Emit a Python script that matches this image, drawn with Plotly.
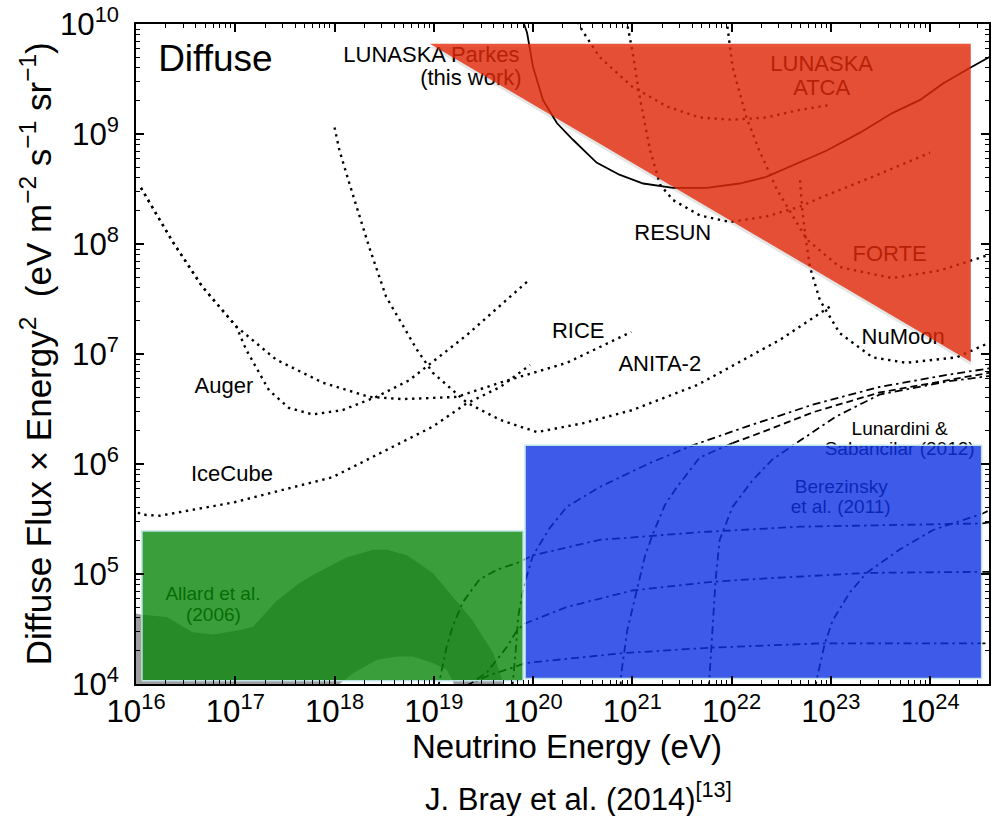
import plotly.graph_objects as go

FONT = "Liberation Sans, Arial, Helvetica, sans-serif"

# ---------------------------------------------------------------------------
# Data: log10(E / eV) and log10(E^2 * flux / eV m^-2 s^-1 sr^-1)
# ---------------------------------------------------------------------------

# Experimental limits (dotted)
auger_logE = [16.05, 16.37, 16.67, 17.01, 17.11, 17.34, 17.54, 17.78, 18.08, 18.42, 18.75, 18.99, 19.33, 19.97]
auger_logF = [8.51, 8.02, 7.61, 7.25, 7.04, 6.67, 6.51, 6.45, 6.49, 6.61, 6.76, 6.93, 7.17, 7.68]

rice_logE = [16.05, 16.37, 16.67, 17.01, 17.41, 17.88, 18.35, 18.69, 18.97, 19.23, 19.67, 20.34, 20.99]
rice_logF = [8.51, 8.02, 7.61, 7.25, 6.95, 6.74, 6.61, 6.59, 6.60, 6.61, 6.74, 6.92, 7.20]

anita_logE = [18.00, 18.05, 18.15, 18.35, 18.52, 18.69, 18.83, 18.99, 19.33, 19.67, 20.04, 20.50, 21.00, 21.66, 22.49, 22.99]
anita_logF = [9.06, 8.85, 8.55, 7.97, 7.52, 7.25, 7.04, 6.83, 6.56, 6.40, 6.29, 6.37, 6.49, 6.72, 7.13, 7.43]

icecube_logE = [16.02, 16.05, 16.24, 16.98, 17.98, 18.66, 18.99, 19.33, 19.67, 19.97]
icecube_logF = [5.56, 5.54, 5.53, 5.65, 5.88, 6.19, 6.34, 6.55, 6.70, 6.90]

resun_logE = [20.94, 21.00, 21.08, 21.18, 21.28, 21.41, 21.68, 21.98, 22.35, 22.69, 22.92, 23.42, 24.00]
resun_logF = [10.04, 9.76, 9.31, 8.85, 8.54, 8.40, 8.26, 8.20, 8.25, 8.34, 8.43, 8.61, 8.83]

atca_logE = [20.45, 20.49, 20.67, 21.00, 21.35, 21.68, 22.01, 22.35, 22.69, 22.97]
atca_logF = [10.02, 9.95, 9.70, 9.43, 9.25, 9.15, 9.13, 9.15, 9.22, 9.26]

forte_logE = [21.95, 22.01, 22.15, 22.28, 22.46, 22.62, 22.76, 23.09, 23.62, 24.10, 24.59]
forte_logF = [10.04, 9.61, 9.15, 8.85, 8.49, 8.25, 8.04, 7.79, 7.69, 7.76, 7.90]

numoon_logE = [22.69, 22.71, 22.74, 22.79, 22.89, 23.09, 23.42, 23.76, 24.27, 24.59]
numoon_logF = [8.58, 8.34, 8.10, 7.79, 7.49, 7.19, 6.97, 6.92, 6.97, 7.10]

# LUNASKA Parkes limit (solid)
parkes_logE = [19.89, 19.94, 20.00, 20.10, 20.24, 20.40, 20.64, 20.87, 21.11, 21.41, 21.75, 22.08,
               22.35, 22.69, 22.96, 23.29, 23.62, 23.90, 24.13, 24.40, 24.60]
parkes_logF = [10.05, 9.92, 9.61, 9.31, 9.10, 8.95, 8.74, 8.63, 8.55, 8.51, 8.51, 8.55,
               8.61, 8.74, 8.85, 9.01, 9.19, 9.31, 9.46, 9.60, 9.70]

# Cosmic-string model curves (dash-dot / dashed)
model1_logE = [19.04, 19.13, 19.19, 19.29, 19.46, 19.64, 19.84, 20.00, 20.67, 21.68, 22.69, 23.69, 24.53, 24.60]
model1_logF = [3.95, 4.34, 4.52, 4.74, 4.95, 5.04, 5.10, 5.17, 5.31, 5.38, 5.43, 5.45, 5.46, 5.47]

model2_logE = [19.79, 19.81, 19.83, 19.85, 19.89, 19.93, 20.00, 20.17, 20.34, 20.67, 21.18, 21.61, 22.15, 22.82, 23.49, 24.17, 24.60]
model2_logF = [3.95, 4.13, 4.35, 4.61, 4.81, 4.96, 5.17, 5.42, 5.61, 5.79, 6.01, 6.17, 6.34, 6.54, 6.70, 6.81, 6.87]

model3_logE = [19.28, 19.53, 19.74, 19.84, 19.92, 20.34, 21.00, 21.81, 22.35, 23.36, 24.53, 24.60]
model3_logF = [3.95, 4.10, 4.34, 4.49, 4.55, 4.70, 4.85, 4.93, 4.96, 5.01, 5.02, 5.02]

model4_logE = [19.31, 19.56, 19.80, 19.92, 20.90, 21.78, 22.92, 24.53, 24.60]
model4_logF = [3.98, 4.08, 4.15, 4.19, 4.28, 4.33, 4.37, 4.37, 4.37]

model5_logE = [20.88, 20.89, 20.95, 21.05, 21.13, 21.21, 21.33, 21.45, 21.68, 22.01]
model5_logF = [3.95, 4.10, 4.49, 4.88, 5.17, 5.37, 5.63, 5.79, 6.06, 6.19]

lunardini_logE = [22.01, 22.28, 22.82, 23.49, 24.17, 24.60]
lunardini_logF = [6.19, 6.28, 6.47, 6.65, 6.76, 6.83]

model6_logE = [21.77, 21.78, 21.81, 21.84, 21.88, 22.01, 22.21, 22.41, 22.62, 23.05, 23.49, 24.17, 24.60]
model6_logF = [3.95, 4.10, 4.58, 4.95, 5.31, 5.61, 5.85, 6.04, 6.17, 6.43, 6.63, 6.75, 6.80]

model7_logE = [22.84, 22.86, 22.94, 23.02, 23.19, 23.36, 23.69, 24.03, 24.53, 24.60]
model7_logF = [3.95, 4.05, 4.37, 4.58, 4.83, 5.01, 5.22, 5.40, 5.55, 5.58]

# Allard et al. (2006) band
allard_hi_logE = [16.00, 16.06, 16.31, 16.57, 16.78, 17.05, 17.18, 17.42, 17.65, 17.82, 18.12,
                  18.39, 18.53, 18.73, 18.99, 19.19, 19.39, 19.60, 19.72]
allard_hi_logF = [4.64, 4.63, 4.61, 4.47, 4.45, 4.49, 4.52, 4.76, 4.92, 5.01, 5.15,
                  5.22, 5.22, 5.17, 5.01, 4.79, 4.58, 4.28, 3.95]
allard_lo_logE = [19.26, 19.19, 19.13, 18.99, 18.79, 18.63, 18.43, 18.19, 18.05, 17.95, 16.00]
allard_lo_logF = [3.85, 4.03, 4.13, 4.19, 4.25, 4.25, 4.22, 4.10, 4.00, 3.85, 3.85]

# Highlighted regions
parkes_region_logE = [18.96, 24.41, 24.41]
parkes_region_logF = [9.82, 9.82, 6.93]
allard_box_logE = [16.06, 19.90]
allard_box_logF = [4.03, 5.39]
berezinsky_box_logE = [19.92, 24.52]
berezinsky_box_logF = [4.05, 6.17]

# Labels
label_text = ["Diffuse", "LUNASKA Parkes", "(this work)", "LUNASKA", "ATCA", "RESUN", "FORTE",
              "NuMoon", "RICE", "ANITA-2", "Auger", "IceCube", "Allard et al.", "(2006)",
              "Berezinsky", "et al. (2011)", "Lunardini &", "Sabancilar (2012)"]
label_logE = [16.80, 18.976, 19.374, 22.908, 22.908, 21.408, 23.593, 23.729, 20.456, 21.277,
              16.886, 16.967, 16.775, 16.78, 23.105, 23.10, 23.694, 23.694]
label_logF = [9.66, 9.709, 9.491, 9.627, 9.409, 8.082, 7.891, 7.145, 7.20, 6.90,
              6.70, 5.891, 4.809, 4.618, 5.782, 5.60, 6.309, 6.127]
label_size = [37, 22, 22, 22, 22, 22, 22, 22, 22, 22, 22, 22, 19, 19, 19, 19, 19, 19]


def pw(seq):
    return [10 ** v for v in seq]


fig = go.Figure()

# grey model band (tinted by the green box above it)
fig.add_trace(go.Scatter(
    x=pw(allard_hi_logE + allard_lo_logE), y=pw(allard_hi_logF + allard_lo_logF),
    mode="lines", fill="toself", fillcolor="rgb(158,158,158)", line=dict(width=0),
    hoverinfo="skip", showlegend=False))

DOT = "2.4px,4.6px"
DASHDOT = "8px,4px,2.5px,4px"


def add_line(logE, logF, dash, width=2.0):
    fig.add_trace(go.Scatter(
        x=pw(logE), y=pw(logF), mode="lines",
        line=dict(color="black", width=width, dash=dash),
        hoverinfo="skip", showlegend=False))


for lx, ly in [(auger_logE, auger_logF), (rice_logE, rice_logF), (anita_logE, anita_logF),
               (icecube_logE, icecube_logF), (resun_logE, resun_logF), (atca_logE, atca_logF),
               (forte_logE, forte_logF), (numoon_logE, numoon_logF)]:
    add_line(lx, ly, DOT, 2.4)

add_line(parkes_logE, parkes_logF, "solid", 1.8)

for lx, ly in [(model1_logE, model1_logF), (model2_logE, model2_logF), (model3_logE, model3_logF),
               (model4_logE, model4_logF), (model5_logE, model5_logF), (model6_logE, model6_logF),
               (model7_logE, model7_logF)]:
    add_line(lx, ly, DASHDOT, 1.8)
add_line(lunardini_logE, lunardini_logF, "7px,4px", 1.8)

# text labels (drawn beneath the translucent regions so they pick up the tint)
fig.add_trace(go.Scatter(
    x=pw(label_logE), y=pw(label_logF), mode="text", text=label_text,
    textposition="middle center",
    textfont=dict(family=FONT, size=label_size, color="black"),
    hoverinfo="skip", showlegend=False, cliponaxis=False))

# translucent highlighted regions
shadow_logF = [v - 0.03 for v in parkes_region_logF]
fig.add_trace(go.Scatter(
    x=pw(parkes_region_logE), y=pw(shadow_logF), mode="lines", fill="toself",
    fillcolor="rgba(0,0,0,0.10)", line=dict(width=0), hoverinfo="skip", showlegend=False))
fig.add_trace(go.Scatter(
    x=pw(parkes_region_logE), y=pw(parkes_region_logF), mode="lines", fill="toself",
    fillcolor="rgba(228,41,9,0.8)", line=dict(width=0), hoverinfo="skip", showlegend=False))


def add_box(logE, logF, rgba):
    xs = pw([logE[0], logE[1], logE[1], logE[0], logE[0]])
    ys = pw([logF[0], logF[0], logF[1], logF[1], logF[0]])
    fig.add_trace(go.Scatter(
        x=xs, y=ys, mode="lines", fill="toself", fillcolor=rgba,
        line=dict(color="rgb(190,228,232)", width=1.5), hoverinfo="skip", showlegend=False))


add_box(allard_box_logE, allard_box_logF, "rgba(9,134,9,0.8)")
add_box(berezinsky_box_logE, berezinsky_box_logF, "rgba(14,49,227,0.8)")

axis_common = dict(
    type="log", dtick=1, exponentformat="power", showgrid=False, zeroline=False,
    showline=True, linewidth=2, linecolor="black", mirror="ticks", automargin=False,
    ticks="inside", ticklen=8, tickwidth=1.5, tickcolor="black",
    minor=dict(ticks="inside", ticklen=4, tickwidth=1, tickcolor="black", dtick="D1", showgrid=False),
    tickfont=dict(family=FONT, size=25, color="black"),
)
fig.update_xaxes(range=[16, 24.594], ticklabelstandoff=0, **axis_common)
fig.update_yaxes(range=[4, 10], ticklabelstandoff=10, **axis_common)

fig.add_annotation(
    text="Diffuse Flux \u00d7 Energy<sup>2</sup>  (eV m<sup>\u22122</sup> s<sup>\u22121</sup> sr<sup>\u22121</sup>)",
    xref="paper", yref="paper", x=-0.117, y=0.5, xanchor="center", yanchor="middle",
    textangle=-90, showarrow=False, font=dict(family=FONT, size=35, color="black"))
fig.add_annotation(
    text="Neutrino Energy (eV)", xref="paper", yref="paper", x=0.505, y=-0.0945,
    xanchor="center", yanchor="middle", showarrow=False,
    font=dict(family=FONT, size=33, color="black"))
fig.add_annotation(
    text="J. Bray et al. (2014)<sup>[13]</sup>", xref="paper", yref="paper", x=0.519, y=-0.171,
    xanchor="center", yanchor="middle", showarrow=False,
    font=dict(family=FONT, size=31, color="black"))

fig.update_layout(
    width=998, height=816,
    margin=dict(l=136, r=9, t=24, b=132, autoexpand=False),
    paper_bgcolor="white", plot_bgcolor="white",
    showlegend=False,
)

fig.write_html("out.html")
